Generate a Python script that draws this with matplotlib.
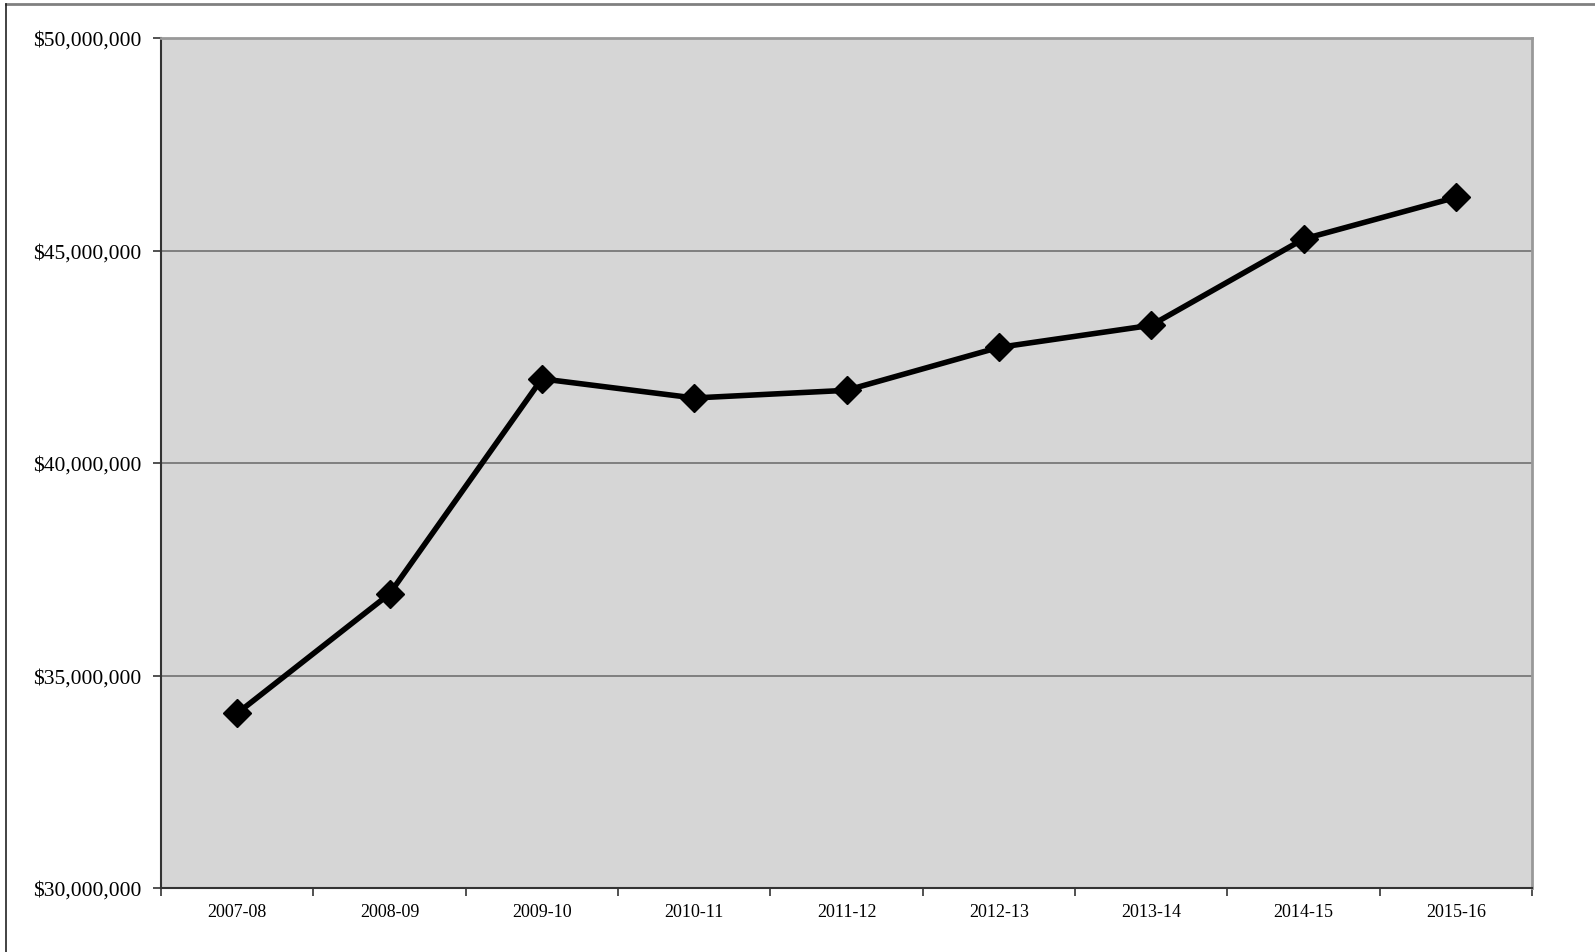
import matplotlib.pyplot as plt
import numpy as np
from matplotlib.ticker import FuncFormatter, FixedLocator
from matplotlib.lines import Line2D

# fiscal years and totals
years = ['2007-08', '2008-09', '2009-10', '2010-11', '2011-12',
         '2012-13', '2013-14', '2014-15', '2015-16']
totals = [34110000, 36920000, 41980000, 41530000, 41710000,
          42720000, 43240000, 45270000, 46250000]

plt.rcParams['font.family'] = ['Liberation Serif', 'DejaVu Serif']

fig = plt.figure(figsize=(15.95, 9.53), dpi=100)
# outer chart frame: gray top edge, dark left edge
fl, ft = 6 / 1595, 1 - 5 / 953
fig.lines.append(Line2D([fl, 1], [ft, ft], transform=fig.transFigure,
                        color='#808080', linewidth=2))
fig.lines.append(Line2D([fl, fl], [0, ft], transform=fig.transFigure,
                        color='#222222', linewidth=1.2))

ax = fig.add_axes([161 / 1595, 64 / 953, (1532 - 161) / 1595, (889 - 39) / 953])
ax.set_facecolor('#d6d6d6')

x = np.arange(len(years))
ax.plot(x, totals, color='black', linewidth=4, marker='D', markersize=14,
        zorder=3)

ax.set_xlim(-0.5, len(years) - 0.5)
ax.set_ylim(30000000, 50000000)
ax.set_yticks(np.arange(30000000, 50000001, 5000000))
ax.yaxis.set_major_formatter(FuncFormatter(lambda v, p: '${:,.0f}'.format(v)))
ax.grid(axis='y', color='#707070', linewidth=1.2)
ax.set_axisbelow(True)

ax.set_xticks(x)
ax.set_xticklabels(years)
ax.xaxis.set_minor_locator(FixedLocator(np.arange(-0.5, len(years), 1)))
ax.tick_params(axis='x', which='major', length=0, labelsize=13, pad=11)
ax.tick_params(axis='x', which='minor', length=6, width=1.2, color='#333333')
ax.tick_params(axis='y', length=6, width=1.2, color='#333333', labelsize=15.5, pad=8)

for s in ['left', 'bottom']:
    ax.spines[s].set_color('#333333')
    ax.spines[s].set_linewidth(1.5)
for s in ['top', 'right']:
    ax.spines[s].set_color('#999999')
    ax.spines[s].set_linewidth(2)

fig.savefig('out.png', dpi=100)
